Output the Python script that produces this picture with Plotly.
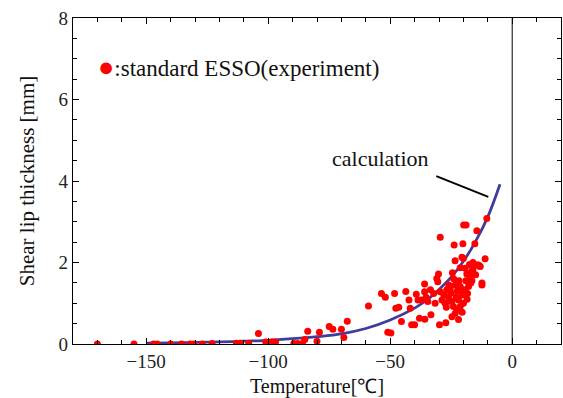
import plotly.graph_objects as go

# Experimental data: temperature (deg C) and shear lip thickness (mm)
exp_T = [-170, -155, -147, -145.5, -140, -135.5, -132, -130.5, -127, -123, -113, -111.5, -108,
         -101, -98.5, -97, -89.5, -88, -86,
         -104, -85, -83.8, -80, -79, -75, -73.5, -70, -69, -67.6,
         -58.9, -53.6, -52, -48.2, -51, -49.7, -47.7, -46.5, -45.4, -43.6, -42.3, -41.8, -41.2, -40,
         -39.3, -38.6, -37.3, -38, -35.8, -35.9, -35.9, -35.3, -34.6, -33.5, -33.3, -32.2, -31.6,
         -30.9, -30.5, -30.2, -29.5, -29.8, -29.5, -28.8, -27.5, -27.2, -26.8, -26.1, -25.4, -24.7,
         -24.7, -24.5, -24.1, -23.8, -23.4, -23.4, -23.4, -22.7, -22, -21.3, -21.3, -21.3, -20.6,
         -20.6, -20.2, -20, -20, -19.9, -19.3, -19.3, -18.9, -18.6, -18.3, -18.3, -17.9, -17.2,
         -16.5, -16.1, -16.1, -15.6, -15.3, -14.5, -14.5, -13.8, -13.4, -13.1, -12.4, -12.4, -11.1,
         -10.4,
         -28, -26, -25, -22.5, -21.8, -19, -17, -23, -27, -20.5, -22, -18.5, -24, -26, -21, -17.5,
         -15, -16.5]
exp_y = [0, 0, 0, 0, 0, 0, 0, 0, 0, 0.01, 0.02, 0.02, 0.02,
         0.05, 0.05, 0.05, 0.01, 0.01, 0.01,
         0.26, 0.11, 0.31, 0.07, 0.29, 0.43, 0.36, 0.36, 0.16, 0.56,
         0.93, 1.24, 1.15, 1.24, 0.29, 0.27, 0.88, 0.90, 0.55, 1.29, 1.08, 0.88, 0.47, 0.47,
         1.22, 1.08, 1.08, 0.63, 0.61, 1.47, 1.28, 1.15, 1.04, 1.33, 0.72, 1.24, 1.00,
         1.61, 1.53, 1.72, 2.62, 0.47, 1.28, 1.08, 1.00, 0.52, 1.33, 1.16, 1.37, 1.04,
         0.67, 1.75, 0.92, 2.43, 2.04, 1.45, 0.75, 0.83, 1.08, 1.41, 0.92, 1.87, 1.20,
         2.13, 2.46, 2.10, 1.00, 2.92, 1.33, 1.86, 2.92, 1.72, 1.24, 1.73, 1.41, 1.65,
         1.80, 2.00, 1.82, 1.94, 2.46, 2.78, 1.94, 1.94, 1.91, 1.90, 1.50, 1.45, 2.09,
         3.08,
         1.20, 1.45, 1.25, 1.30, 1.55, 1.55, 1.50, 1.15, 0.90, 0.78, 0.60, 1.10, 1.60, 1.05, 1.35, 1.95,
         1.70, 1.55]

# Calculated curve
calc_T = [-150, -140, -130, -120, -110, -100, -90, -80, -70, -60, -50, -40, -35, -30, -25, -20, -15, -10, -5]
calc_y = [0.02, 0.03, 0.04, 0.05, 0.07, 0.09, 0.13, 0.18, 0.25, 0.38, 0.59, 0.88, 1.08, 1.34, 1.64,
          2.03, 2.52, 3.12, 3.92]

x_ticks = [-150, -100, -50, 0]
y_ticks = [0, 2, 4, 6, 8]

FONT = "Liberation Serif"

fig = go.Figure()
fig.add_trace(go.Scatter(x=calc_T, y=calc_y, mode="lines",
                         line=dict(color="#3d3d9e", width=2.8, shape="spline"),
                         showlegend=False, hoverinfo="skip"))
fig.add_trace(go.Scatter(x=exp_T, y=exp_y, mode="markers",
                         marker=dict(color="#ff0000", size=7, line=dict(width=0)),
                         showlegend=False))

fig.add_shape(type="line", x0=0, x1=0, y0=0, y1=8, xref="x", yref="y",
              line=dict(color="black", width=1))
fig.add_shape(type="line", x0=-31.1, y0=4.12, x1=-9.8, y1=3.61, xref="x", yref="y",
              line=dict(color="black", width=2))

fig.add_annotation(x=-54, y=4.56, xref="x", yref="y", text="calculation", showarrow=False,
                   font=dict(family=FONT, size=22, color="#111"))
fig.add_annotation(x=-170.5, y=6.8, xref="x", yref="y", xanchor="left",
                   text="<span style='color:#ff0000;font-size:27px'>●</span>:standard ESSO(experiment)",
                   showarrow=False, font=dict(family=FONT, size=23, color="#111"))

axis_common = dict(showline=True, linecolor="black", linewidth=1.2, mirror="allticks",
                   ticks="inside", ticklen=6, tickcolor="black", tickwidth=1,
                   showgrid=False, zeroline=False,
                   tickfont=dict(family=FONT, size=19, color="#222"))

fig.update_xaxes(range=[-180, 20], tickvals=x_ticks,
                 minor=dict(dtick=10, ticks="inside", ticklen=4, tickcolor="black", showgrid=False),
                 title=dict(text="Temperature[℃]", font=dict(family=FONT, size=20, color="#111"),
                            standoff=9),
                 **axis_common)
fig.update_yaxes(range=[0, 8], tickvals=y_ticks,
                 minor=dict(dtick=0.5, ticks="inside", ticklen=4, tickcolor="black", showgrid=False),
                 title=dict(text="Shear lip thickness [mm]", font=dict(family=FONT, size=21, color="#111"),
                            standoff=18),
                 **axis_common)

fig.update_layout(width=563, height=398, margin=dict(l=73, r=2, t=18, b=54),
                  plot_bgcolor="white", paper_bgcolor="white", showlegend=False)

fig.write_html("out.html")
